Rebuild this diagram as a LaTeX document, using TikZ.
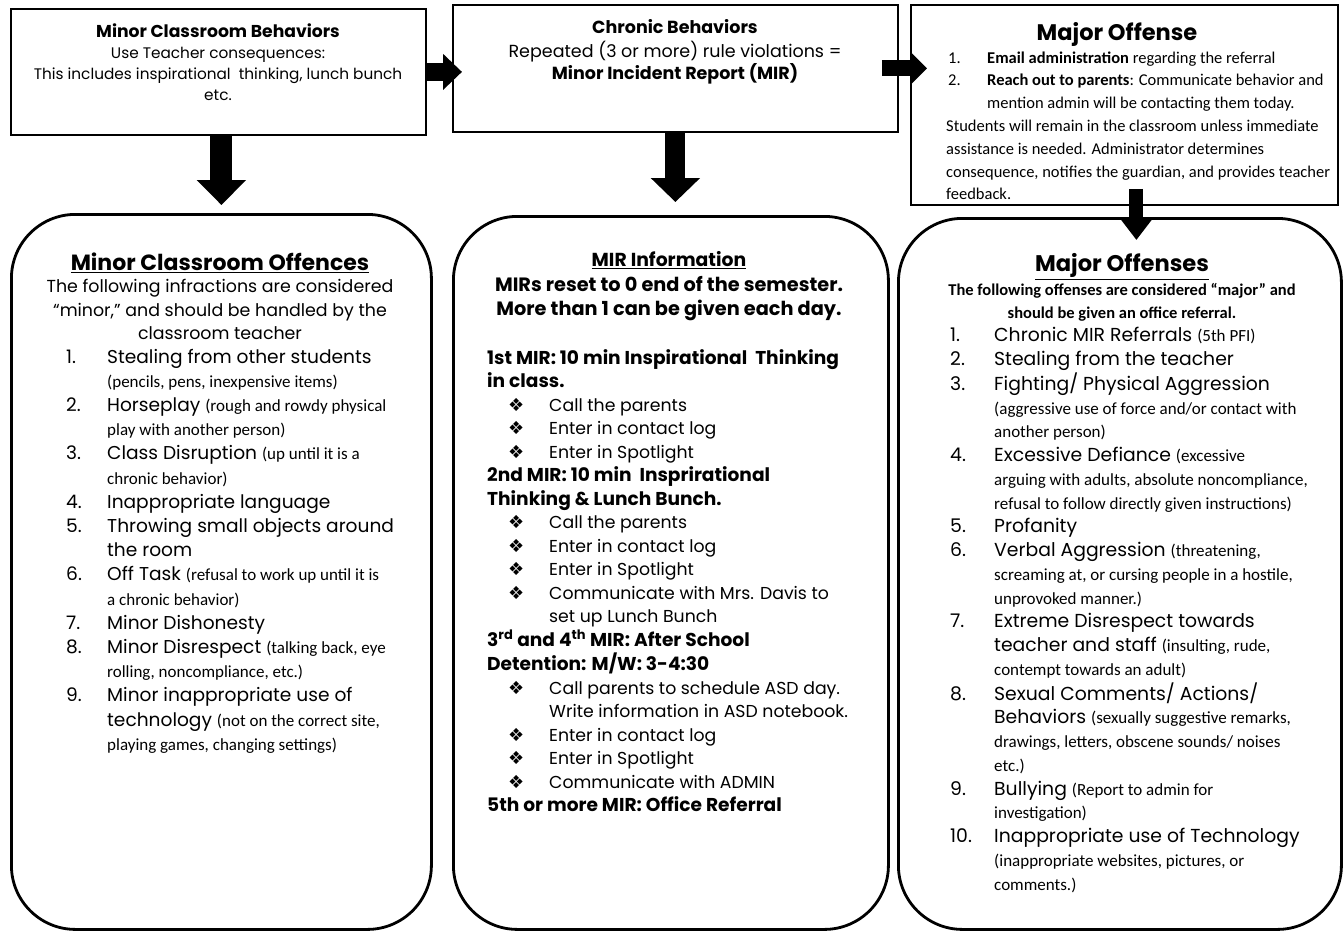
\documentclass[tikz,border=0pt]{standalone}
\usepackage{fontspec}
\setmainfont{Poppins}
\newfontfamily\hand{Carlito}
\newfontfamily\symfont{DejaVu Sans}
\usetikzlibrary{positioning,arrows.meta}
\newcommand{\hw}[1]{{\hand\fontsize{17}{20}\selectfont #1}}
\newcommand{\dia}{{\symfont\fontsize{18}{20}\selectfont ❖}}
\newcommand{\mirhd}[1]{\multicolumn{3}{@{}l@{}}{\fontsize{18.6}{23.5}\selectfont\bfseries #1}}
\tikzset{
  topbox/.style={draw, line width=1.8pt, inner sep=0pt, anchor=north west},
  bigbox/.style={draw, line width=2.8pt, inner sep=0pt, rounded corners=64pt, anchor=north west},
  head/.style={inner sep=0pt, anchor=north, align=center},
  lst/.style={inner sep=0pt, anchor=north west},
  fatarrow/.style n args={3}{line width=#1, -{Triangle[width=#2,length=#3]}}
}

\begin{document}
\begin{tikzpicture}[x=1pt,y=-1pt]
\useasboundingbox (0,0) rectangle (1343,934);
%top row boxes
\node[topbox, minimum width=415pt, minimum height=126pt] (behav) at (10,8) {};
\node[topbox, minimum width=445pt, minimum height=127pt] (chron) at (452,4) {};
\node[topbox, minimum width=427pt, minimum height=200pt] (major) at (910,4) {};
%bottom row boxes
\node[bigbox, minimum width=420pt, minimum height=715pt] (minbox) at (10,213) {};
\node[bigbox, minimum width=435pt, minimum height=713pt] (mirbox) at (452,215) {};
\node[bigbox, minimum width=443pt, minimum height=711pt] (majbox) at (897,217) {};

%texts top row
\node[head, font=\fontsize{15.3}{21}\selectfont] (behavtxt) at (218,23) {\begin{tabular}{@{}c@{}}
  {\fontsize{17.2}{21}\selectfont\bfseries Minor Classroom Behaviors}\\
  Use Teacher consequences:\\
  This includes inspirational \ thinking, lunch bunch\\
  etc.
\end{tabular}};
\node[head, font=\fontsize{17.5}{22.5}\selectfont] (chrontxt) at (675,18) {\begin{tabular}{@{}c@{}}
  \textbf{Chronic Behaviors}\\
  Repeated (3 or more) rule violations =\\
  \textbf{Minor Incident Report (MIR)}
\end{tabular}};
\node[head, font=\fontsize{22.5}{26}\selectfont\bfseries] (majortitle) at (1117,22) {Major Offense};
\node[lst, font=\hand\fontsize{16.5}{22.8}\selectfont] (majortxt) at (946,47) {\begin{tabular}{@{\hspace{2pt}}p{39pt}@{}l@{}}
  1. & \textbf{Email administration} regarding the referral\\
  2. & \textbf{Reach out to parents}: Communicate behavior and\\
     & mention admin will be contacting them today.\\
  \multicolumn{2}{@{}l@{}}{Students will remain in the classroom unless immediate}\\
  \multicolumn{2}{@{}l@{}}{assistance is needed. Administrator determines}\\
  \multicolumn{2}{@{}l@{}}{consequence, notifies the guardian, and provides teacher}\\
  \multicolumn{2}{@{}l@{}}{feedback.}
\end{tabular}};

%minor offences
\node[head, font=\fontsize{22}{24}\selectfont\bfseries] (mintitle) at (220,252.5) {\underline{Minor Classroom Offences}};
\node[head, font=\fontsize{17.4}{23.5}\selectfont] (minintro) at (220,276) {\begin{tabular}{@{}c@{}}
  The following infractions are considered\\
  “minor,” and should be handled by the\\
  classroom teacher
\end{tabular}};
\node[lst, font=\fontsize{18.6}{24.2}\selectfont] (minlst) at (66,346) {\begin{tabular}{@{}p{41pt}@{}l@{}}
  1. & Stealing from other students\\
     & \hw{(pencils, pens, inexpensive items)}\\
  2. & Horseplay \hw{(rough and rowdy physical}\\
     & \hw{play with another person)}\\
  3. & Class Disruption \hw{(up until it is a}\\
     & \hw{chronic behavior)}\\
  4. & Inappropriate language\\
  5. & Throwing small objects around\\
     & the room\\
  6. & Off Task \hw{(refusal to work up until it is}\\
     & \hw{a chronic behavior)}\\
  7. & Minor Dishonesty\\
  8. & Minor Disrespect \hw{(talking back, eye}\\
     & \hw{rolling, noncompliance, etc.)}\\
  9. & Minor inappropriate use of\\
     & technology \hw{(not on the correct site,}\\
     & \hw{playing games, changing settings)}
\end{tabular}};

%MIR information
\node[head, font=\fontsize{18.8}{24}\selectfont\bfseries] (mirtitle) at (669,251) {\underline{MIR Information}};
\node[head, font=\fontsize{19.3}{24}\selectfont\bfseries] (mirintro) at (669,274) {\begin{tabular}{@{}c@{}}
  MIRs reset to 0 end of the semester.\\
  More than 1 can be given each day.
\end{tabular}};
\node[lst, font=\fontsize{17.3}{23.5}\selectfont] (mirlst) at (487,347.5) {\begin{tabular}{@{}p{21pt}@{}p{41pt}@{}l@{}}
  \mirhd{1st MIR: 10 min Inspirational \ Thinking}\\
  \mirhd{in class.}\\
  & \dia & Call the parents\\
  & \dia & Enter in contact log\\
  & \dia & Enter in Spotlight\\
  \mirhd{2nd MIR: 10 min \ Insprirational}\\
  \mirhd{Thinking \& Lunch Bunch.}\\
  & \dia & Call the parents\\
  & \dia & Enter in contact log\\
  & \dia & Enter in Spotlight\\
  & \dia & Communicate with Mrs. Davis to\\
  &      & set up Lunch Bunch\\
  \mirhd{3\textsuperscript{rd} and 4\textsuperscript{th} MIR: After School}\\
  \mirhd{Detention: M/W: 3-4:30}\\
  & \dia & Call parents to schedule ASD day.\\
  &      & Write information in ASD notebook.\\
  & \dia & Enter in contact log\\
  & \dia & Enter in Spotlight\\
  & \dia & Communicate with ADMIN\\
  \mirhd{5th or more MIR: Office Referral}
\end{tabular}};

%major offenses
\node[head, font=\fontsize{22.6}{24}\selectfont\bfseries] (majtitle) at (1122,253.5) {\underline{Major Offenses}};
\node[head, font=\hand\fontsize{16.5}{23}\selectfont\bfseries] (majintro) at (1122,279) {\begin{tabular}{@{}c@{}}
  The following offenses are considered “major” and\\
  should be given an office referral.
\end{tabular}};
\node[lst, font=\fontsize{18.8}{23.74}\selectfont] (majlst) at (950,325) {\begin{tabular}{@{}p{44pt}@{}l@{}}
  1.  & Chronic MIR Referrals \hw{(5th PFI)}\\
  2.  & Stealing from the teacher\\
  3.  & Fighting/ Physical Aggression\\
      & \hw{(aggressive use of force and/or contact with}\\
      & \hw{another person)}\\
  4.  & Excessive Defiance \hw{(excessive}\\
      & \hw{arguing with adults, absolute noncompliance,}\\
      & \hw{refusal to follow directly given instructions)}\\
  5.  & Profanity\\
  6.  & Verbal Aggression \hw{(threatening,}\\
      & \hw{screaming at, or cursing people in a hostile,}\\
      & \hw{unprovoked manner.)}\\
  7.  & Extreme Disrespect towards\\
      & teacher and staff \hw{(insulting, rude,}\\
      & \hw{contempt towards an adult)}\\
  8.  & Sexual Comments/ Actions/\\
      & Behaviors \hw{(sexually suggestive remarks,}\\
      & \hw{drawings, letters, obscene sounds/ noises}\\
      & \hw{etc.)}\\
  9.  & Bullying \hw{(Report to admin for}\\
      & \hw{investigation)}\\
  10. & Inappropriate use of Technology\\
      & \hw{(inappropriate websites, pictures, or}\\
      & \hw{comments.)}
\end{tabular}};

%arrows
\draw[fatarrow={18pt}{35pt}{19pt}] (behav.east) -- ([xshift=10pt]chron.west |- behav.east);
\draw[fatarrow={16pt}{33pt}{17pt}] ([xshift=-17pt]chron.east) -- ([xshift=17pt]major.west |- chron.east);
\draw[fatarrow={22pt}{48pt}{25pt}] (behav.south -| minbox.north) -- ([yshift=8pt]minbox.north);
\draw[fatarrow={20pt}{48pt}{24pt}] (chron.south) -- ([yshift=13pt]chron.south |- mirbox.north);
\draw[fatarrow={14pt}{32pt}{22pt}] ([xshift=12pt,yshift=17pt]major.south) -- ([xshift=12pt,yshift=-23pt]major.south |- majbox.north);
\end{tikzpicture}
\end{document}
